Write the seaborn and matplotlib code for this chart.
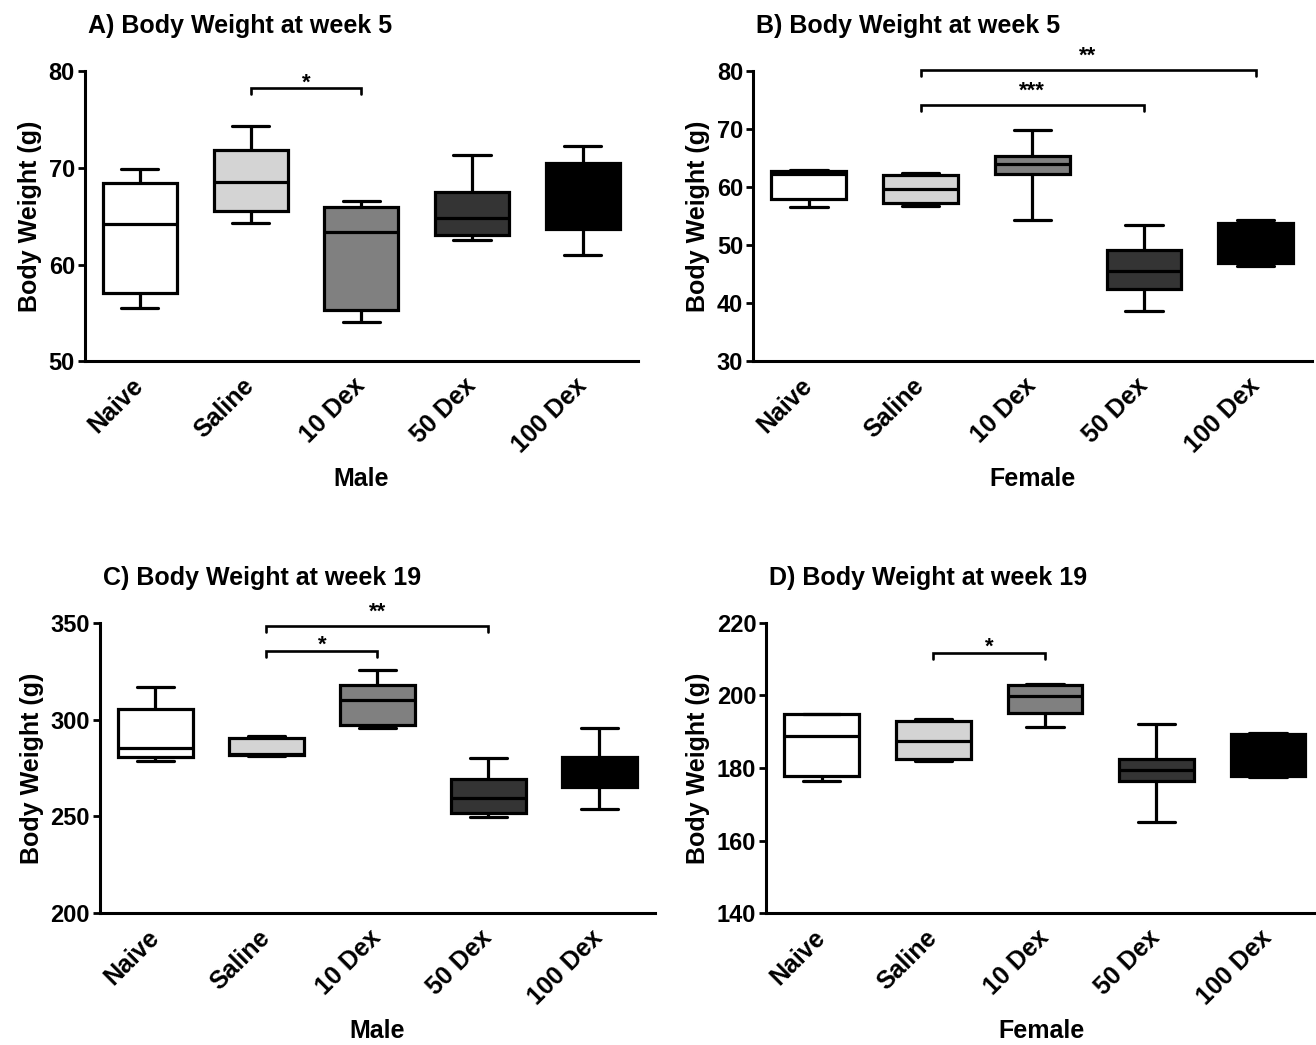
import numpy as np
import pandas as pd
import matplotlib
matplotlib.use("Agg")
import matplotlib.pyplot as plt
import seaborn as sns

# ---------------- data (five-number summaries) ----------
groups = ["Naive", "Saline", "10 Dex", "50 Dex", "100 Dex"]
box_colors = ["#ffffff", "#d4d4d4", "#808080", "#343434", "#000000"]

# A) Male, week 5
a_min = [55.5, 64.3, 54.1, 62.5, 61.0]
a_q1 = [57.1, 65.5, 55.3, 63.1, 63.7]
a_med = [64.2, 68.5, 63.4, 64.8, 67.0]
a_q3 = [68.4, 71.8, 65.9, 67.5, 70.5]
a_max = [69.9, 74.3, 66.6, 71.3, 72.3]

# B) Female, week 5
b_min = [56.5, 56.7, 54.4, 38.6, 46.5]
b_q1 = [57.9, 57.2, 62.3, 42.5, 47.0]
b_med = [62.2, 59.6, 63.9, 45.5, 50.5]
b_q3 = [62.8, 62.1, 65.4, 49.2, 53.9]
b_max = [63.0, 62.4, 69.9, 53.5, 54.4]

# C) Male, week 19
c_min = [278.6, 281.2, 295.5, 249.9, 253.7]
c_q1 = [280.7, 281.9, 297.4, 251.6, 265.1]
c_med = [285.3, 282.3, 310.0, 259.5, 273.0]
c_q3 = [305.5, 290.7, 318.0, 269.5, 280.9]
c_max = [316.7, 291.5, 325.6, 280.0, 295.5]

# D) Female, week 19
d_min = [176.4, 182.0, 191.3, 165.0, 177.6]
d_q1 = [177.9, 182.4, 195.1, 176.4, 177.8]
d_med = [188.8, 187.4, 199.7, 179.5, 184.0]
d_q3 = [194.8, 192.9, 202.8, 182.4, 189.4]
d_max = [195.0, 193.4, 203.0, 192.0, 189.6]

# significance brackets: (group i, group j, bracket height, label)
a_sig = [(1, 2, 78.2, "*")]
b_sig = [(1, 3, 74.2, "***"), (1, 4, 80.1, "**")]
c_sig = [(1, 2, 335.6, "*"), (1, 3, 348.3, "**")]
d_sig = [(1, 2, 211.6, "*")]

titles = ["A) Body Weight at week 5", "B) Body Weight at week 5",
          "C) Body Weight at week 19", "D) Body Weight at week 19"]
xlabels = ["Male", "Female", "Male", "Female"]
yticks_list = [[50, 60, 70, 80], [30, 40, 50, 60, 70, 80],
               [200, 250, 300, 350], [140, 160, 180, 200, 220]]

# ---------------- style ----------------
sns.set_style("ticks")
plt.rcParams["font.family"] = ["Liberation Sans", "DejaVu Sans"]
plt.rcParams["font.weight"] = "bold"
plt.rcParams["axes.labelweight"] = "bold"
plt.rcParams["axes.titleweight"] = "bold"
for key in ["text.color", "axes.labelcolor", "xtick.color", "ytick.color",
            "axes.edgecolor"]:
    plt.rcParams[key] = "black"

W, H = 1316, 1045
fig = plt.figure(figsize=(W / 100, H / 100), dpi=100)

# axes rectangles in pixels: left, right, top, bottom
rects_px = [(84.6, 638.0, 71.0, 361.3),
            (753.0, 1311.5, 71.0, 361.3),
            (99.8, 654.9, 622.7, 913.3),
            (766.0, 1316.0, 622.7, 913.3)]
xlims = [(-0.5, 4.5), (-0.5, 4.5), (-0.5, 4.5), (-0.5, 4.43)]

summaries = [(a_min, a_q1, a_med, a_q3, a_max),
             (b_min, b_q1, b_med, b_q3, b_max),
             (c_min, c_q1, c_med, c_q3, c_max),
             (d_min, d_q1, d_med, d_q3, d_max)]
sigs = [a_sig, b_sig, c_sig, d_sig]
palette = dict(zip(groups, box_colors))


def frame(mins, q1s, meds, q3s, maxs):
    rows = []
    for g, vals in zip(groups, zip(mins, q1s, meds, q3s, maxs)):
        for v in vals:
            rows.append({"group": g, "weight": v})
    return pd.DataFrame(rows)


for k in range(4):
    l, r, t, b = rects_px[k]
    ax = fig.add_axes([l / W, 1 - b / H, (r - l) / W, (b - t) / H])
    df = frame(*summaries[k])
    sns.boxplot(data=df, x="group", y="weight", hue="group", order=groups,
                hue_order=groups, palette=palette, whis=(0, 100), width=0.67,
                linewidth=2.3, linecolor="black", saturation=1, legend=False,
                showfliers=False, dodge=False, ax=ax)
    yt = yticks_list[k]
    ax.set_ylim(yt[0], yt[-1])
    ax.set_yticks(yt)
    ax.set_xlim(*xlims[k])
    ax.set_xticks(range(len(groups)))
    ax.set_xticklabels(groups, rotation=45, ha="right", va="center",
                       rotation_mode="anchor", fontsize=18, fontweight="bold")
    ax.tick_params(axis="x", length=0, pad=15)
    ax.tick_params(axis="y", length=5, width=2, direction="out", labelsize=17,
                   pad=2)
    for lab in ax.get_yticklabels():
        lab.set_fontweight("bold")
    sns.despine(ax=ax)
    ax.spines["left"].set_linewidth(2.2)
    ax.spines["bottom"].set_linewidth(2.2)
    ax.set_ylabel("Body Weight (g)", fontsize=18, fontweight="bold", labelpad=5)
    ax.set_xlabel(xlabels[k], fontsize=18, fontweight="bold")
    ax.xaxis.set_label_coords(0.5, -0.365)
    ax.set_title(titles[k], loc="left", fontsize=18, fontweight="bold",
                 y=1.0, pad=27, x=0.006)

    # significance brackets
    span = yt[-1] - yt[0]
    drop = 6.0 * span / (b - t)
    for i, j, yb, lab in sigs[k]:
        ax.plot([i, i, j, j], [yb - drop, yb, yb, yb - drop], color="black",
                lw=1.9, clip_on=False, solid_joinstyle="miter")
        dy = 0 if lab == "*" else 6
        ax.annotate(lab, xy=((i + j) / 2, yb), xytext=(0, dy),
                    textcoords="offset points", ha="center", va="baseline",
                    fontsize=16, fontweight="bold", annotation_clip=False)

fig.savefig("out.png", dpi=100)
